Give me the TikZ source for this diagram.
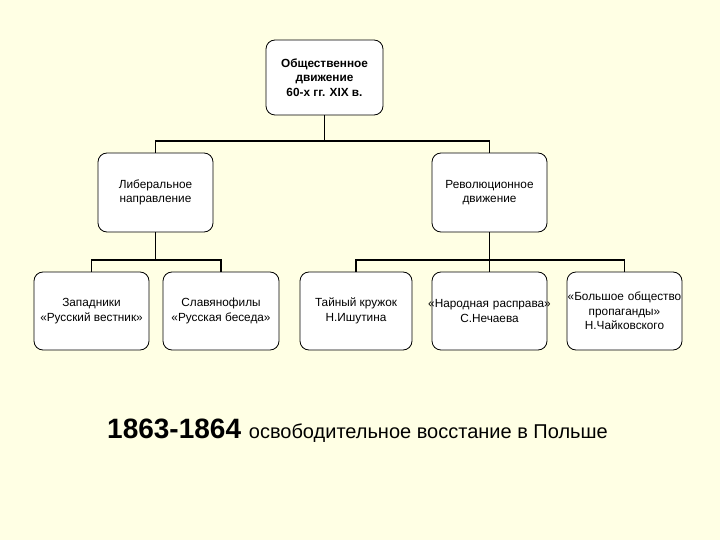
\documentclass[tikz,border=0pt]{standalone}
\usepackage{fontspec}
\setmainfont{Liberation Sans}
\begin{document}
\begin{tikzpicture}[x=1pt,y=-1pt,
  box/.style={draw=black,line width=0.8pt,rounded corners=9pt,fill=white,align=center,font=\fontsize{11.8}{14.5}\selectfont,inner sep=0pt},
  conn/.style={draw=black,line width=1.8pt}]
\fill[fill={rgb,255:red,255;green,255;blue,228}] (0,0) rectangle (720,540);
\useasboundingbox (0,0) rectangle (720,540);
\node[box,minimum width=117pt,minimum height=75pt,font=\bfseries\fontsize{11.8}{14.5}\selectfont] (top) at (324.5,77.5) {Общественное\\движение\\60-х гг. XIX в.};
\node[box,minimum width=115pt,minimum height=79pt] (lib) at (155.5,192.5) {Либеральное\\направление};
\node[box,minimum width=115pt,minimum height=79pt] (rev) at (489.5,192.5) {Революционное\\движение};
\node[box,minimum width=115pt,minimum height=78pt] (b1) at (91.5,311) {Западники\\«Русский вестник»};
\node[box,minimum width=116pt,minimum height=78pt] (b2) at (221,311) {Славянофилы\\«Русская беседа»};
\node[box,minimum width=112pt,minimum height=78pt] (b3) at (356,311) {Тайный кружок\\Н.Ишутина};
\node[box,minimum width=115pt,minimum height=78pt,text width=115pt] (b4) at (489.5,311) {\makebox[115pt][c]{«Народная расправа»}\\С.Нечаева};
\node[box,minimum width=115pt,minimum height=78pt,text width=115pt] (b5) at (624.5,311) {\makebox[115pt][c]{«Большое общество}\\пропаганды»\\Н.Чайковского};
\coordinate (j1) at (324.5,141);
\coordinate (j2) at (155.5,260);
\coordinate (j3) at (489.5,260);
\draw[conn] (top.south) -- (j1);
\draw[conn] (lib.north) |- (j1) -| (rev.north);
\draw[conn] (lib.south) -- (j2);
\draw[conn] (b1.north) |- (j2) -| (b2.north);
\draw[conn] (rev.south) -- (b4.north);
\draw[conn] (b3.north) |- (j3) -| (b5.north);
\node[anchor=base west,inner sep=0pt] (cap) at (107,438) {\fontsize{28}{32}\selectfont\bfseries 1863-1864 \fontsize{20}{24}\mdseries освободительное восстание в Польше};
\end{tikzpicture}
\end{document}
